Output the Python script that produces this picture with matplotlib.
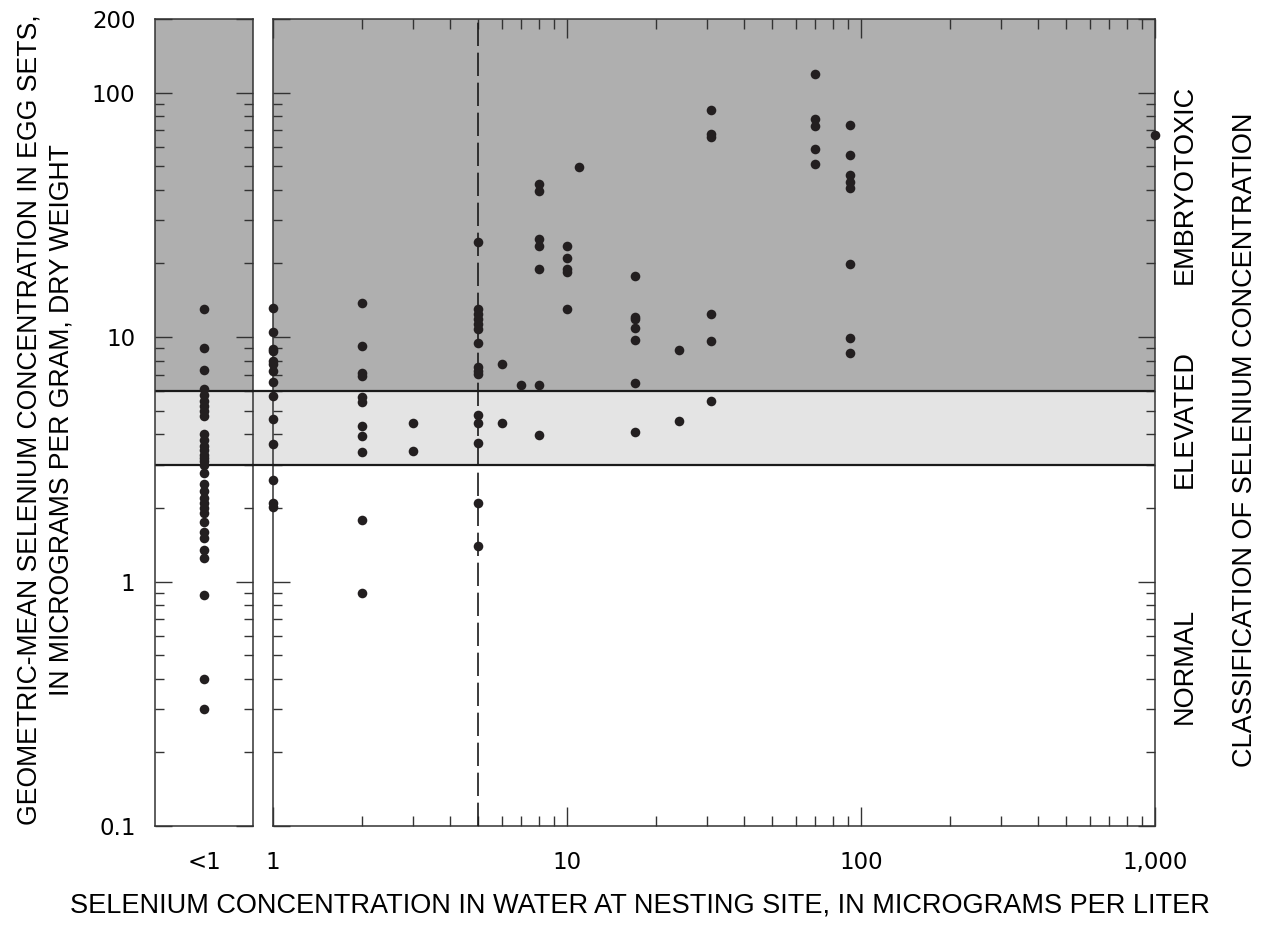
import numpy as np
import matplotlib
matplotlib.use("Agg")
import matplotlib.pyplot as plt
import matplotlib.transforms as mtransforms
from matplotlib.lines import Line2D
from matplotlib.patches import Rectangle
from matplotlib.ticker import FixedLocator, NullFormatter, LogLocator

# ---------------- data ----------------
# samples with water selenium < 1 ug/L (plotted in the left panel)
lt1_values = [13.0, 9.0, 7.3, 6.15, 5.8, 5.5, 5.2, 5.0, 4.75,
              4.0, 3.8, 3.6, 3.45, 3.3, 3.2, 3.1, 3.0, 2.77,
              2.5, 2.35, 2.2, 2.1, 2.0, 1.9, 1.75, 1.6, 1.5,
              1.35, 1.25, 0.88, 0.40, 0.30]

# samples with detectable water selenium (main panel)
water_se = [1, 1, 1, 1, 1, 1, 1, 1, 1, 1, 1, 1, 1, 1,
            2, 2, 2, 2, 2, 2, 2, 2, 2, 2, 2,
            3, 3,
            5, 5, 5, 5, 5, 5, 5, 5, 5, 5, 5, 5, 5, 5, 5,
            6, 6,
            7,
            8, 8, 8, 8, 8, 8, 8,
            10, 10, 10, 10, 10,
            11,
            17, 17, 17, 17, 17, 17, 17,
            24, 24,
            31, 31, 31, 31, 31, 31,
            70, 70, 70, 70, 70,
            92, 92, 92, 92, 92, 92, 92, 92,
            1000]
egg_se = [13.1, 10.5, 8.95, 8.75, 8.0, 7.77, 7.25, 6.53, 5.75, 4.63, 3.66, 2.59, 2.09, 2.01,
          13.8, 9.2, 7.14, 6.92, 5.71, 5.40, 4.32, 3.93, 3.39, 1.79, 0.90,
          4.44, 3.43,
          24.4, 13.0, 12.4, 11.9, 11.3, 10.8, 9.43, 7.52, 7.29, 7.03, 4.81, 4.44, 3.70, 2.10, 1.40,
          7.77, 4.47,
          6.37,
          42.3, 39.7, 25.2, 23.5, 18.9, 6.37, 3.99,
          23.5, 21.0, 18.9, 18.4, 13.0,
          49.5,
          17.8, 12.1, 11.9, 10.9, 9.77, 6.51, 4.08,
          8.87, 4.55,
          85.2, 67.8, 65.6, 12.4, 9.67, 5.48,
          119.0, 78.0, 73.2, 58.9, 50.8,
          73.5, 55.3, 46.0, 42.9, 40.7, 19.9, 9.93, 8.64,
          67.3]

# classification thresholds (ug/g dry weight)
normal_max = 3.0
elevated_max = 6.0
y_range = (0.1, 200)
x_range = (1, 1000)
reference_water = 5

x_ticks = [1, 10, 100, 1000]
x_ticklabels = ["1", "10", "100", "1,000"]
y_ticks = [0.1, 1, 10, 100, 200]
y_ticklabels = ["0.1", "1", "10", "100", "200"]

class_labels = ["NORMAL", "ELEVATED", "EMBRYOTOXIC"]
class_label_y = [0.45, 4.6, 42.0]

# ---------------- style ----------------
DARK = "#afafaf"
LIGHT = "#e4e4e4"
DOT = "#231f20"
LINE = "#1a1a1a"

label_font = ["Liberation Sans", "DejaVu Sans"]
tick_font = ["DejaVu Sans"]
LFS = 19.5
TFS = 16.5

W, H, DPI = 1277, 934, 100
fig = plt.figure(figsize=(W / DPI, H / DPI), dpi=DPI)

def fx(px):
    return px / W

def fy(py):
    return 1 - py / H

top_px, bot_px = 19, 826
ax_left = fig.add_axes([fx(155), fy(bot_px), fx(253) - fx(155), fy(top_px) - fy(bot_px)])
ax = fig.add_axes([fx(273), fy(bot_px), fx(1155) - fx(273), fy(top_px) - fy(bot_px)])

for a in (ax_left, ax):
    a.set_yscale("log")
    a.set_ylim(*y_range)
    a.axhspan(elevated_max, y_range[1], color=DARK, lw=0, zorder=0)
    a.axhspan(normal_max, elevated_max, color=LIGHT, lw=0, zorder=0)
    a.axhline(normal_max, color=LINE, lw=1.6, zorder=2)
    a.axhline(elevated_max, color=LINE, lw=1.6, zorder=2)
    for s in a.spines.values():
        s.set_linewidth(1.1)
        s.set_color("#333333")
    a.yaxis.set_major_locator(FixedLocator(y_ticks))
    a.yaxis.set_minor_locator(LogLocator(base=10, subs=np.arange(2, 10), numticks=20))
    a.yaxis.set_minor_formatter(NullFormatter())
    a.tick_params(axis="y", which="major", direction="in", length=12, width=1.0,
                  color="#333333", left=True, right=True)
    a.tick_params(axis="y", which="minor", direction="in", length=6.5, width=1.0,
                  color="#333333", left=True, right=True)

# left panel (< 1)
ax_left.set_xlim(0, 1)
ax_left.set_xticks([0.5])
ax_left.set_xticklabels(["<1"])
ax_left.tick_params(axis="x", which="both", length=0, pad=18)
ax_left.set_yticklabels(y_ticklabels)
ax_left.tick_params(axis="y", which="major", labelleft=True, pad=14)
for lab in ax_left.get_xticklabels() + ax_left.get_yticklabels():
    lab.set_fontfamily(tick_font)
    lab.set_fontsize(TFS)
ax_left.scatter(np.full(len(lt1_values), 0.5), lt1_values, s=48, color=DOT,
                zorder=4, linewidths=0, clip_on=False)

# main panel
ax.set_xscale("log")
ax.set_xlim(*x_range)
ax.xaxis.set_major_locator(FixedLocator(x_ticks))
ax.set_xticklabels(x_ticklabels)
ax.xaxis.set_minor_locator(LogLocator(base=10, subs=np.arange(2, 10), numticks=20))
ax.xaxis.set_minor_formatter(NullFormatter())
ax.tick_params(axis="x", which="major", direction="in", length=14, width=1.0,
               color="#333333", top=True, bottom=True, pad=18)
ax.tick_params(axis="x", which="minor", direction="in", length=7.5, width=1.0,
               color="#333333", top=True, bottom=True)
ax.tick_params(axis="y", which="both", labelleft=False)
for lab in ax.get_xticklabels():
    lab.set_fontfamily(tick_font)
    lab.set_fontsize(TFS)

ax.axvline(reference_water, color=LINE, lw=1.2, dashes=(14, 4), zorder=3)
ax.scatter(water_se, egg_se, s=48, color=DOT, zorder=4, linewidths=0, clip_on=False)

# continue the elevated band and threshold lines across the gap between panels
blend = mtransforms.blended_transform_factory(fig.transFigure, ax.transData)
fig.add_artist(Rectangle((fx(253), normal_max), fx(273) - fx(253), elevated_max - normal_max,
                         transform=blend, facecolor=LIGHT, edgecolor="none", zorder=0))
for yv in (normal_max, elevated_max):
    fig.add_artist(Line2D([fx(253), fx(273)], [yv, yv], transform=blend,
                          color=LINE, lw=1.6, zorder=2))

# classification labels on the right
for txt, yv in zip(class_labels, class_label_y):
    fig.text(fx(1185), yv, txt, transform=blend, rotation=90, ha="center", va="center",
             fontsize=LFS, family=label_font)
fig.text(fx(1245), fy(440), "CLASSIFICATION OF SELENIUM CONCENTRATION", rotation=90,
         ha="center", va="center", fontsize=LFS, family=label_font)

# axis titles
fig.text(fx(640), fy(905),
         "SELENIUM CONCENTRATION IN WATER AT NESTING SITE, IN MICROGRAMS PER LITER",
         ha="center", va="center", fontsize=LFS, family=label_font)
fig.text(fx(30), fy(420), "GEOMETRIC-MEAN SELENIUM CONCENTRATION IN EGG SETS,",
         rotation=90, ha="center", va="center", fontsize=19.2, family=label_font)
fig.text(fx(62), fy(420), "IN MICROGRAMS PER GRAM, DRY WEIGHT",
         rotation=90, ha="center", va="center", fontsize=19.2, family=label_font)

fig.savefig("out.png", dpi=DPI)
